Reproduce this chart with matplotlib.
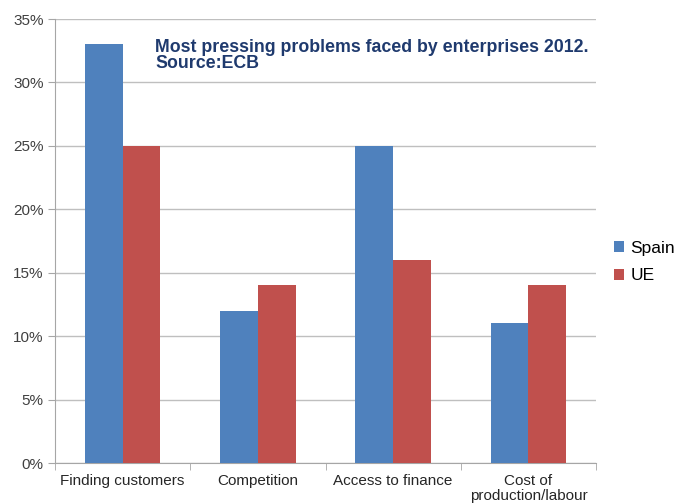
import matplotlib
matplotlib.use("Agg")
import matplotlib.pyplot as plt
import numpy as np
from matplotlib.ticker import FuncFormatter, FixedLocator

categories = ["Finding customers", "Competition", "Access to finance", "Cost of\nproduction/labour"]
spain = [33, 12, 25, 11]
ue = [25, 14, 16, 14]
yticks = [0, 5, 10, 15, 20, 25, 30, 35]

plt.rcParams['font.family'] = ['Liberation Sans', 'DejaVu Sans']

fig = plt.figure(figsize=(6.86, 5.04), dpi=100)
ax = fig.add_axes([0.080, 0.0813, 0.789, 0.8809])

x = np.arange(len(categories))
w = 0.28
ax.bar(x - w/2, spain, w, color="#4F81BD", label="Spain", zorder=3)
ax.bar(x + w/2, ue, w, color="#C0504D", label="UE", zorder=3)

ax.set_xlim(-0.5, len(categories) - 0.5)
ax.set_ylim(0, 35)
ax.set_yticks(yticks)
ax.yaxis.set_major_formatter(FuncFormatter(lambda v, p: f"{int(v)}%"))
ax.yaxis.grid(True, color="#BFBFBF", linewidth=1, zorder=0)
ax.set_axisbelow(True)

ax.set_xticks(x)
ax.set_xticklabels(categories, linespacing=1.1)
ax.xaxis.set_minor_locator(FixedLocator(np.arange(len(categories) + 1) - 0.5))
ax.tick_params(axis='x', which='major', length=0, pad=8, labelsize=11, labelcolor="#262626")
ax.tick_params(axis='x', which='minor', length=5, color="#A6A6A6")
ax.tick_params(axis='y', length=5, color="#A6A6A6", labelsize=11, labelcolor="#404040", pad=3)

for s in ["top", "right"]:
    ax.spines[s].set_visible(False)
for s in ["left", "bottom"]:
    ax.spines[s].set_color("#A6A6A6")

ax.text(0.185, 0.955, "Most pressing problems faced by enterprises 2012.\nSource:ECB",
        transform=ax.transAxes, fontsize=12.8, fontweight="bold", color="#1F3A6E",
        va="top", ha="left", linespacing=0.9)

fig.legend(loc="center left", bbox_to_anchor=(0.872, 0.48), frameon=False,
           fontsize=12.5, handlelength=0.6, handleheight=0.6, handletextpad=0.35,
           labelspacing=0.7)

fig.savefig("out.png", dpi=100)
